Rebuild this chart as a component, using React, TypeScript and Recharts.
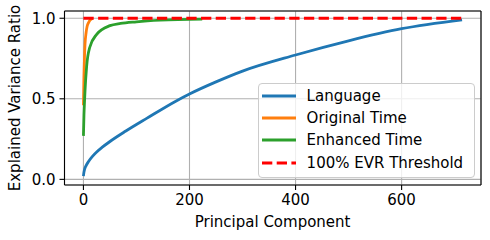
import { LineChart, Line, XAxis, YAxis, CartesianGrid, ReferenceLine, Legend } from 'recharts'

// cumulative explained variance
const languageX = [0, 1, 2, 5, 10, 17, 25, 35, 50, 80, 120, 175, 200, 250, 300, 400, 500, 600, 714]
const languageY = [0.02, 0.045, 0.06, 0.085, 0.113, 0.143, 0.17, 0.198, 0.235, 0.3, 0.38, 0.487, 0.53, 0.605, 0.672, 0.772, 0.86, 0.935, 0.99]

const originalX = [0, 1, 2, 3, 5, 7, 10, 13, 17]
const originalY = [0.46, 0.64, 0.76, 0.84, 0.91, 0.95, 0.975, 0.99, 1.0]

const enhancedX = [0, 1, 2, 3, 6, 12, 25, 50, 70, 100, 145, 224]
const enhancedY = [0.27, 0.4, 0.48, 0.55, 0.7, 0.82, 0.9, 0.954, 0.968, 0.978, 0.988, 0.995]

const thresholdX = [0, 714]
const thresholdY = [1.0, 1.0]

const xTicks = [0, 200, 400, 600]
const yTicks = [0, 0.5, 1.0]
const xDomain = [-35.7, 749.7]
const yDomain = [-0.035, 1.045]

const zip = (xs: number[], ys: number[]) => xs.map((x, i) => ({ x, y: ys[i] }))

const series = [
  { name: 'Language', color: '#1f77b4', data: zip(languageX, languageY), dash: undefined },
  { name: 'Original Time', color: '#ff7f0e', data: zip(originalX, originalY), dash: undefined },
  { name: 'Enhanced Time', color: '#2ca02c', data: zip(enhancedX, enhancedY), dash: undefined },
  { name: '100% EVR Threshold', color: '#ff0000', data: zip(thresholdX, thresholdY), dash: '10.3 4.4' },
]

const font = "'DejaVu Sans', sans-serif"
const fontSize = 15

const ChartLegend = () => (
  <div
    style={{
      width: 212,
      background: 'rgba(255,255,255,0.8)',
      border: '1px solid #cccccc',
      borderRadius: 4,
      padding: '1px 0 3px 3px',
      fontFamily: font,
      fontSize,
      color: '#000',
    }}
  >
    {series.map((s) => (
      <div key={s.name} style={{ display: 'flex', alignItems: 'center', height: 22.2 }}>
        <svg width={34} height={6} style={{ marginRight: 10.6 }}>
          <line x1={0} y1={3} x2={34} y2={3} stroke={s.color} strokeWidth={2.8} strokeDasharray={s.dash} />
        </svg>
        <span>{s.name}</span>
      </div>
    ))}
  </div>
)

const YLabel = ({ viewBox }: any) => {
  const cy = viewBox.y + viewBox.height / 2
  return (
    <text x={15} y={cy} transform={`rotate(-90 15 ${cy})`} textAnchor="middle" dominantBaseline="central"
      fontFamily={font} fontSize={fontSize} fill="#000">
      Explained Variance Ratio
    </text>
  )
}

const XLabel = () => (
  <text x={272.6} y={222} textAnchor="middle" dominantBaseline="central"
    fontFamily={font} fontSize={fontSize} fill="#000">
    Principal Component
  </text>
)

export default function App() {
  return (
    <div style={{ position: 'absolute', left: 0, top: 0, width: 490, height: 240, background: '#fff' }}>
      <LineChart width={490} height={240} margin={{ top: 11, right: 9, left: 0, bottom: 0 }}>
        <CartesianGrid stroke="#b0b0b0" strokeWidth={1.1} />
        <XAxis
          dataKey="x"
          type="number"
          domain={xDomain}
          allowDataOverflow
          ticks={xTicks}
          height={55}
          stroke="#000"
          strokeWidth={1.1}
          tickSize={5}
          tickMargin={4}
          tick={{ fontSize, fontFamily: font, fill: '#000' }}
          label={<XLabel />}
        />
        <YAxis
          type="number"
          domain={yDomain}
          allowDataOverflow
          ticks={yTicks}
          width={64.5}
          stroke="#000"
          strokeWidth={1.1}
          tickSize={5}
          tickMargin={4}
          tickFormatter={(v: number) => v.toFixed(1)}
          tick={{ fontSize, fontFamily: font, fill: '#000' }}
          label={<YLabel />}
        />
        <ReferenceLine x={xDomain[1]} stroke="#000" strokeWidth={1.1} />
        <ReferenceLine y={yDomain[1]} stroke="#000" strokeWidth={1.1} />
        {series.map((s) => (
          <Line
            key={s.name}
            data={s.data}
            dataKey="y"
            name={s.name}
            type="monotone"
            stroke={s.color}
            strokeWidth={2.8}
            strokeDasharray={s.dash}
            dot={false}
            activeDot={false}
            isAnimationActive={false}
          />
        ))}
        <Legend
          layout="vertical"
          align="center"
          verticalAlign="middle"
          content={<ChartLegend />}
          wrapperStyle={{ left: 258, top: 83, width: 'auto' }}
        />
      </LineChart>
    </div>
  )
}
